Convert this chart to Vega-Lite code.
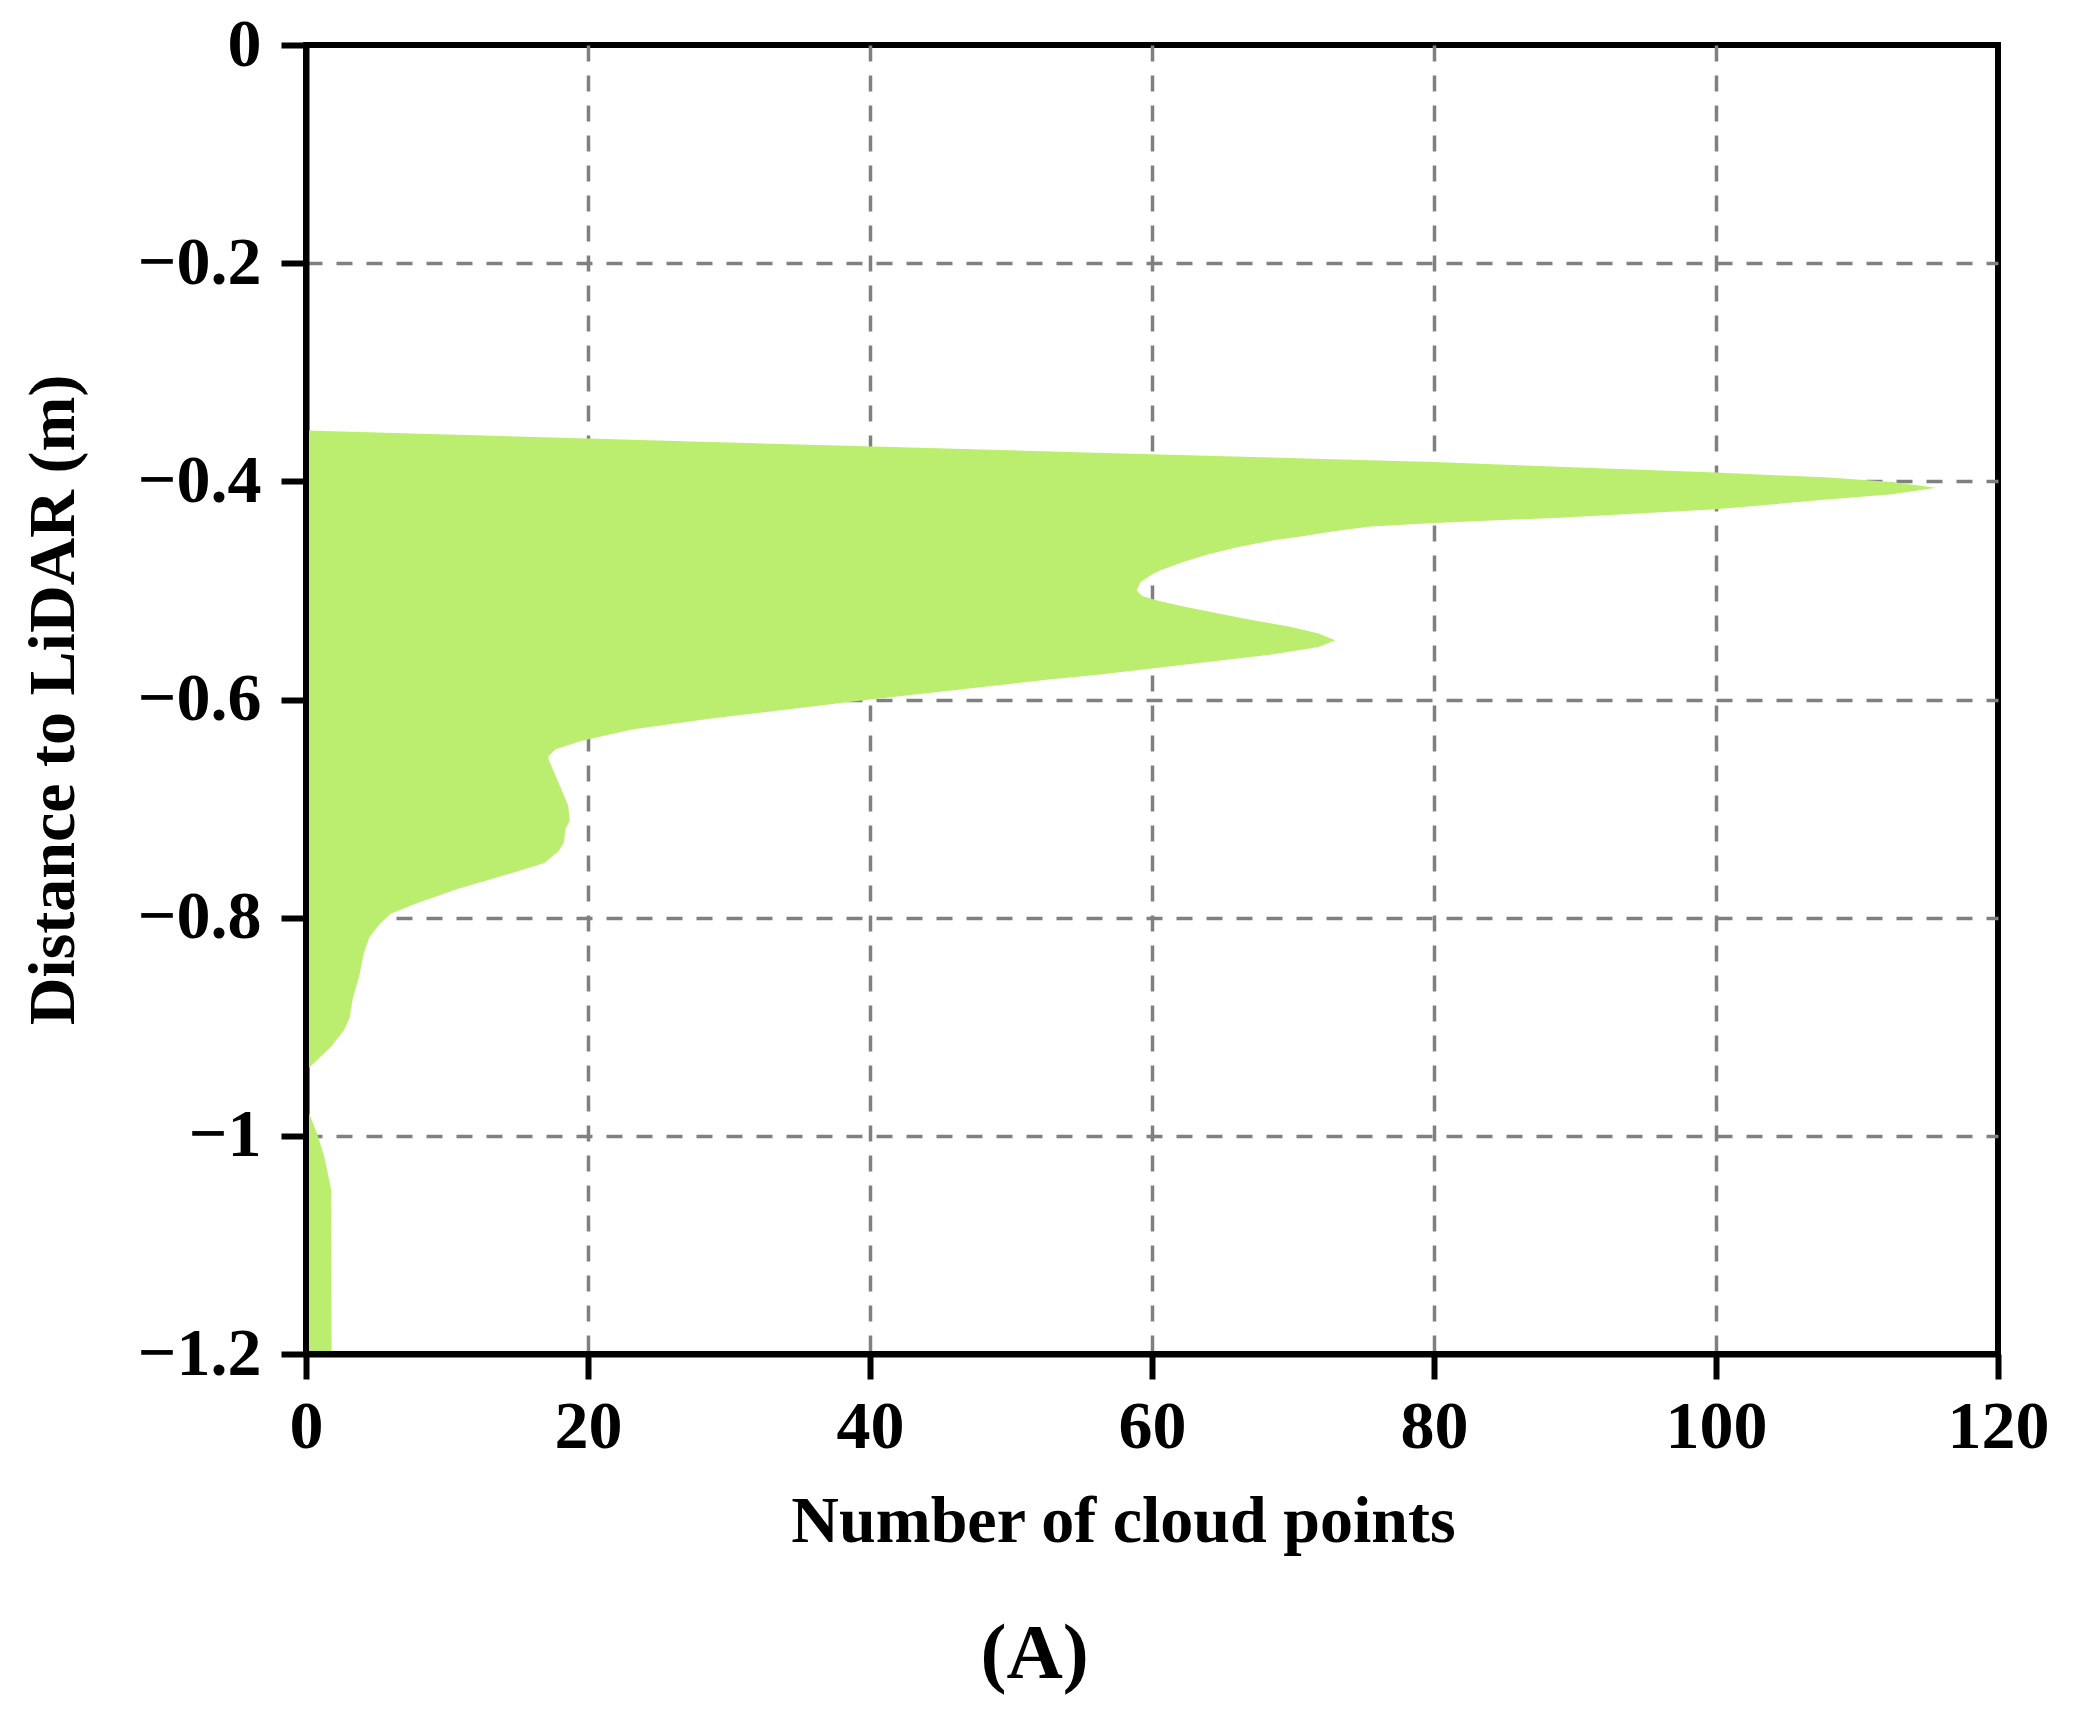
{
  "$schema": "https://vega.github.io/schema/vega-lite/v6.json",
  "autosize": {"type": "none"},
  "width": 1692,
  "height": 1309,
  "padding": {"left": 306, "top": 45, "right": 78, "bottom": 365},
  "background": "white",
  "title": {"text": "(A)", "orient": "bottom", "frame": "bounds", "anchor": "middle", "font": "Liberation Serif", "fontWeight": "bold", "fontSize": 78, "color": "black", "offset": 62},
  "layer": [
    {
      "data": {"values": [
        {"distance": -0.3534, "count": 0},
        {"distance": -0.3607, "count": 20},
        {"distance": -0.3677, "count": 39},
        {"distance": -0.3738, "count": 56},
        {"distance": -0.3823, "count": 80},
        {"distance": -0.392, "count": 100},
        {"distance": -0.3965, "count": 108},
        {"distance": -0.4006, "count": 112.5},
        {"distance": -0.4058, "count": 115.6},
        {"distance": -0.4119, "count": 112.5},
        {"distance": -0.4174, "count": 107.2},
        {"distance": -0.4257, "count": 100},
        {"distance": -0.4333, "count": 88.9},
        {"distance": -0.4382, "count": 80},
        {"distance": -0.4415, "count": 75.5},
        {"distance": -0.4455, "count": 73.0},
        {"distance": -0.4500, "count": 70.8},
        {"distance": -0.4541, "count": 68.6},
        {"distance": -0.4602, "count": 66.1},
        {"distance": -0.4669, "count": 64.0},
        {"distance": -0.4739, "count": 62.2},
        {"distance": -0.4815, "count": 60.6},
        {"distance": -0.4861, "count": 59.9},
        {"distance": -0.4922, "count": 59.2},
        {"distance": -0.4999, "count": 58.9},
        {"distance": -0.5051, "count": 59.3},
        {"distance": -0.5096, "count": 60.5},
        {"distance": -0.5151, "count": 62.4},
        {"distance": -0.5258, "count": 66.5},
        {"distance": -0.5334, "count": 69.8},
        {"distance": -0.5395, "count": 71.8},
        {"distance": -0.5457, "count": 73.0},
        {"distance": -0.5518, "count": 71.8},
        {"distance": -0.5585, "count": 68.6},
        {"distance": -0.568, "count": 62.4},
        {"distance": -0.5771, "count": 56.3},
        {"distance": -0.5817, "count": 52.7},
        {"distance": -0.6009, "count": 39.4},
        {"distance": -0.6176, "count": 28.6},
        {"distance": -0.6274, "count": 23.1},
        {"distance": -0.638, "count": 19.5},
        {"distance": -0.6457, "count": 17.7},
        {"distance": -0.6517, "count": 17.2},
        {"distance": -0.6548, "count": 17.2},
        {"distance": -0.67, "count": 17.7},
        {"distance": -0.6974, "count": 18.6},
        {"distance": -0.7111, "count": 18.7},
        {"distance": -0.7187, "count": 18.4},
        {"distance": -0.7308, "count": 18.3},
        {"distance": -0.739, "count": 17.9},
        {"distance": -0.7498, "count": 16.9},
        {"distance": -0.7603, "count": 14.3},
        {"distance": -0.7734, "count": 10.8},
        {"distance": -0.7866, "count": 7.9},
        {"distance": -0.7964, "count": 6.0},
        {"distance": -0.8062, "count": 5.2},
        {"distance": -0.8177, "count": 4.5},
        {"distance": -0.8325, "count": 4.1},
        {"distance": -0.8522, "count": 3.8},
        {"distance": -0.8751, "count": 3.3},
        {"distance": -0.8915, "count": 3.1},
        {"distance": -0.903, "count": 2.7},
        {"distance": -0.9178, "count": 1.8},
        {"distance": -0.9374, "count": 0.24},
        {"distance": -0.94, "count": 0},
        {"distance": -0.978, "count": 0},
        {"distance": -0.98, "count": 0.24},
        {"distance": -0.9998, "count": 0.83},
        {"distance": -1.0194, "count": 1.3},
        {"distance": -1.049, "count": 1.78},
        {"distance": -1.2, "count": 1.82}
      ]},
      "mark": {"type": "area", "orient": "horizontal", "color": "#bbed6e", "interpolate": "linear"},
      "encoding": {
        "x": {
          "field": "count", "type": "quantitative",
          "scale": {"domain": [0, 120], "nice": false},
          "axis": {
            "title": "Number of cloud points",
            "values": [0, 20, 40, 60, 80, 100, 120],
            "format": "d",
            "labelPadding": 14,
            "titlePadding": 28,
            "titleX": 817,
            "gridOpacity": {"condition": {"test": "datum.value <= 0 || datum.value >= 120", "value": 0}, "value": 1}
          }
        },
        "y": {
          "field": "distance", "type": "quantitative",
          "scale": {"domain": [-1.2, 0], "nice": false, "zero": false},
          "axis": {
            "title": "Distance to LiDAR (m)",
            "values": [0, -0.2, -0.4, -0.6, -0.8, -1, -1.2],
            "format": "~r",
            "labelPadding": 20,
            "titlePadding": 50,
            "gridOpacity": {"condition": {"test": "datum.value >= 0 || datum.value <= -1.2", "value": 0}, "value": 1}
          }
        }
      }
    },
    {
      "data": {"values": [{"edge": "left"}]},
      "mark": {"type": "rule", "color": "black", "strokeWidth": 6},
      "encoding": {"x": {"datum": 0, "type": "quantitative"}}
    },
    {
      "data": {"values": [{"edge": "bottom"}]},
      "mark": {"type": "rule", "color": "black", "strokeWidth": 6},
      "encoding": {"y": {"datum": -1.2, "type": "quantitative"}}
    }
  ],
  "config": {
    "view": {"stroke": "black", "strokeWidth": 6},
    "axis": {
      "labelFont": "Liberation Serif",
      "labelFontWeight": "bold",
      "labelFontSize": 68,
      "labelColor": "black",
      "labelFlush": false,
      "labelOverlap": false,
      "titleFont": "Liberation Serif",
      "titleFontWeight": "bold",
      "titleFontSize": 66,
      "titleColor": "black",
      "tickSize": 25,
      "tickWidth": 6,
      "tickColor": "black",
      "domainColor": "black",
      "domainWidth": 6,
      "grid": true,
      "gridColor": "#808080",
      "gridDash": [16, 14],
      "gridWidth": 3.5
    }
  }
}
